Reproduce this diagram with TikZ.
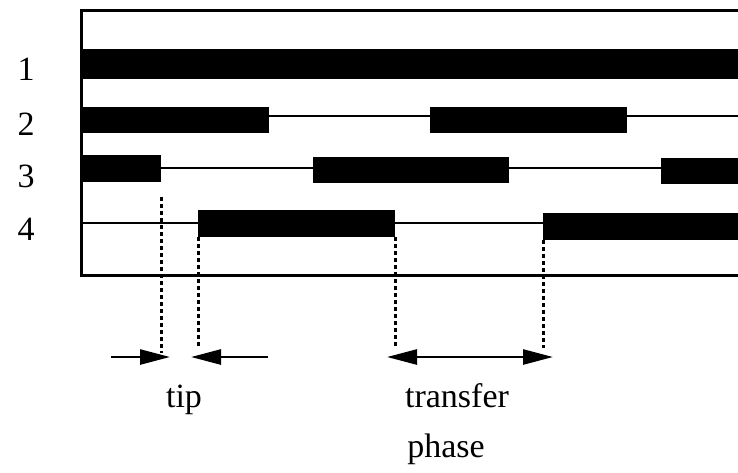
\documentclass[tikz,border=0pt]{standalone}
\usepackage{fontspec}
\setmainfont{Liberation Serif}
\usetikzlibrary{arrows.meta}
\begin{document}
\begin{tikzpicture}[x=1pt,y=-1pt,
  bar/.style={fill=black},
  idle/.style={line width=2.6pt},
  frame/.style={line width=3pt},
  guide/.style={line width=3pt, dash pattern=on 4pt off 3pt},
  span/.style={line width=2.6pt, -{Triangle[length=30pt,width=15pt]}},
  both/.style={line width=2.6pt, {Triangle[length=30pt,width=15pt]}-{Triangle[length=30pt,width=15pt]}},
  lbl/.style={font=\fontsize{34}{40}\selectfont, anchor=base, inner sep=0pt}]
\useasboundingbox (0,0) rectangle (738,472);

% frame, open on the right
\draw[frame] (738,10) -- (81,10) -- (81,275) -- (738,275);

% idle lines of rows 2--4
\draw[idle] (81,116) -- (738,116);
\draw[idle] (81,168) -- (738,168);
\draw[idle] (81,223) -- (738,223);

% busy bars
\fill[bar] (81,49) rectangle (738,79);
\fill[bar] (81,107) rectangle (269,133);
\fill[bar] (430,107) rectangle (627,133);
\fill[bar] (81,155) rectangle (161,182);
\fill[bar] (313,157) rectangle (509,183);
\fill[bar] (661,158) rectangle (738,184);
\fill[bar] (198,210) rectangle (395,237);
\fill[bar] (543,213) rectangle (738,240);

% row numbers
\node[lbl] (r1) at (26,80) {1};
\node[lbl] (r2) at (26,135) {2};
\node[lbl] (r3) at (26,187) {3};
\node[lbl] (r4) at (26,240) {4};

% guide lines down to the arrows
\coordinate (g1t) at (161,197);
\coordinate (g1b) at (161,353);
\coordinate (g2t) at (198,237);
\coordinate (g2b) at (198,348);
\coordinate (g3t) at (395,237);
\coordinate (g3b) at (395,348);
\coordinate (g4t) at (543,240);
\coordinate (g4b) at (543,348);
\draw[guide] (g1t) -- (g1b);
\draw[guide] (g2t) -- (g2b);
\draw[guide] (g3t) -- (g3b);
\draw[guide] (g4t) -- (g4b);

% arrows
\coordinate (a1s) at (111,357);
\coordinate (a1e) at (170,357);
\coordinate (a2s) at (268,357);
\coordinate (a2e) at (191,357);
\coordinate (a3s) at (387,357);
\coordinate (a3e) at (553,357);
\draw[span] (a1s) -- (a1e);
\draw[span] (a2s) -- (a2e);
\draw[both] (a3s) -- (a3e);

% labels
\node[lbl] (tip) at (184,407) {tip};
\node[lbl] (transfer) at (457,407) {transfer};
\node[lbl] (phase) at (446,457) {phase};
\end{tikzpicture}
\end{document}
